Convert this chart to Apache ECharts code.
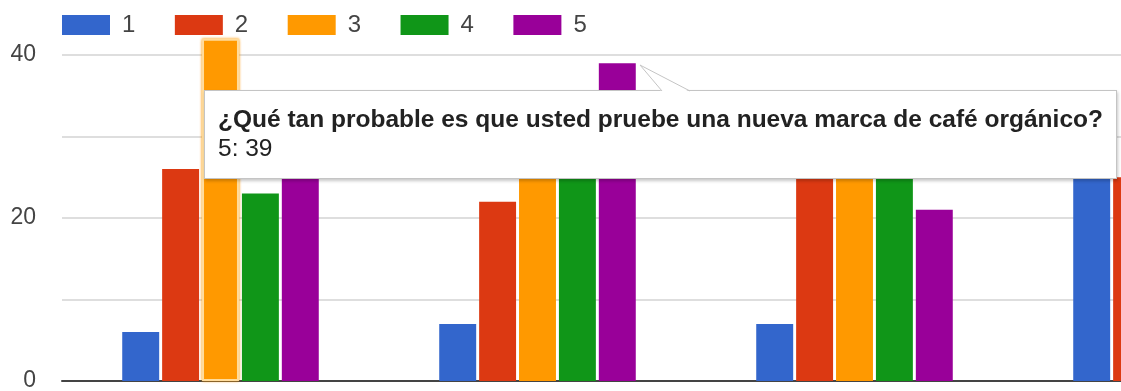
<!DOCTYPE html>
<html>
<head>
<meta charset="utf-8">
<script src="https://cdn.jsdelivr.net/npm/echarts@6/dist/echarts.min.js"></script>
<style>
  html, body { margin: 0; padding: 0; background: #ffffff; }
  #chart { width: 1121px; height: 391px; }
</style>
</head>
<body>
<div id="chart"></div>
<script>
// Rows of the survey grid (the x axis categories)
const categories = [
  'Pregunta 1',
  '¿Qué tan probable es que usted pruebe una nueva marca de café orgánico?',
  'Pregunta 3',
  'Pregunta 4'
];
// Answer scale 1..5, one series each
const seriesNames = ['1', '2', '3', '4', '5'];
const answers1 = [6, 7, 7, 30];
const answers2 = [26, 22, 32, 25];
const answers3 = [42, 28, 33, 31];
const answers4 = [23, 30, 33, 24];
const answers5 = [30, 39, 21, 16];
// Gridlines every 10, labels only on these
const yTickLabels = [0, 20, 40];

const palette = ['#3366cc', '#dc3912', '#ff9900', '#109618', '#990099'];
const FONT = '"Liberation Sans", Arial, sans-serif';

const allAnswers = [answers1, answers2, answers3, answers4, answers5];
// focused bar (answer 3 of the first row)
const focused = { series: 2, index: 0 };

const chart = echarts.init(document.getElementById('chart'), null, { renderer: 'canvas' });

const series = seriesNames.map((name, s) => ({
  name: name,
  type: 'bar',
  clip: false,
  barGap: '8%',
  barCategoryGap: '38%',
  itemStyle: { color: palette[s] },
  emphasis: { disabled: true },
  data: allAnswers[s].map((v, i) => {
    if (s === focused.series && i === focused.index) {
      return {
        value: v,
        itemStyle: {
          color: palette[s],
          borderColor: '#ffdc9c',
          borderWidth: 2,
          shadowColor: '#ff9900',
          shadowBlur: 3
        }
      };
    }
    return v;
  })
}));

// pointer of the tooltip, drawn relative to the tooltip box
const arrowSvg =
  '<svg width="80" height="34" style="position:absolute;left:420px;top:-30px;overflow:visible">' +
  '<polygon points="15,4 37,31 65,31" fill="#ffffff" stroke="none"/>' +
  '<polyline points="37,30 15,4 65,30" fill="none" stroke="#c4c4c4" stroke-width="1"/>' +
  '</svg>';

const cssFont = FONT.replace(/"/g, "'");

chart.setOption({
  animation: false,
  textStyle: { fontFamily: FONT },
  color: palette,
  legend: {
    left: 62,
    top: 13,
    padding: 0,
    icon: 'rect',
    itemWidth: 48,
    itemHeight: 20,
    itemGap: 39.5,
    selectedMode: false,
    textStyle: { fontSize: 24, color: '#444444', fontFamily: FONT, padding: [0, 0, 0, 7] },
    data: seriesNames
  },
  grid: {
    left: 62,
    top: 55,
    width: 1268,
    height: 326,
    outerBoundsMode: 'none',
    containLabel: false
  },
  tooltip: {
    trigger: 'item',
    triggerOn: 'none',
    alwaysShowContent: true,
    transitionDuration: 0,
    backgroundColor: '#ffffff',
    borderColor: '#c4c4c4',
    borderWidth: 1,
    padding: [13, 13, 16, 13],
    extraCssText: 'box-shadow: 1px 2px 3px rgba(0,0,0,0.22); border-radius: 0;',
    textStyle: { fontFamily: FONT, fontSize: 24, color: '#222222' },
    position: function (point, params, dom, rect) {
      return [rect.x + rect.width - 432, rect.y + 27];
    },
    formatter: function (p) {
      return '<div style="font:bold 24.5px/29px ' + cssFont + ';color:#222">' + p.name + '</div>' +
             '<div style="font:24.5px/29px ' + cssFont + ';color:#222">' + p.seriesName + ': ' + p.value + '</div>' +
             arrowSvg;
    }
  },
  xAxis: {
    type: 'category',
    data: categories,
    axisLine: { show: true, lineStyle: { color: '#444444', width: 2 } },
    axisTick: { show: false },
    axisLabel: { show: false },
    splitLine: { show: false }
  },
  yAxis: {
    type: 'value',
    min: 0,
    max: 40,
    interval: 10,
    axisLine: { show: false },
    axisTick: { show: false },
    axisLabel: {
      margin: 26,
      fontSize: 23,
      color: '#444444',
      fontFamily: FONT,
      formatter: v => (yTickLabels.indexOf(v) >= 0 ? String(v) : '')
    },
    splitLine: { lineStyle: { color: '#dedede', width: 2 } }
  },
  series: series
});

chart.dispatchAction({ type: 'showTip', seriesIndex: 4, dataIndex: 1 });
</script>
</body>
</html>
